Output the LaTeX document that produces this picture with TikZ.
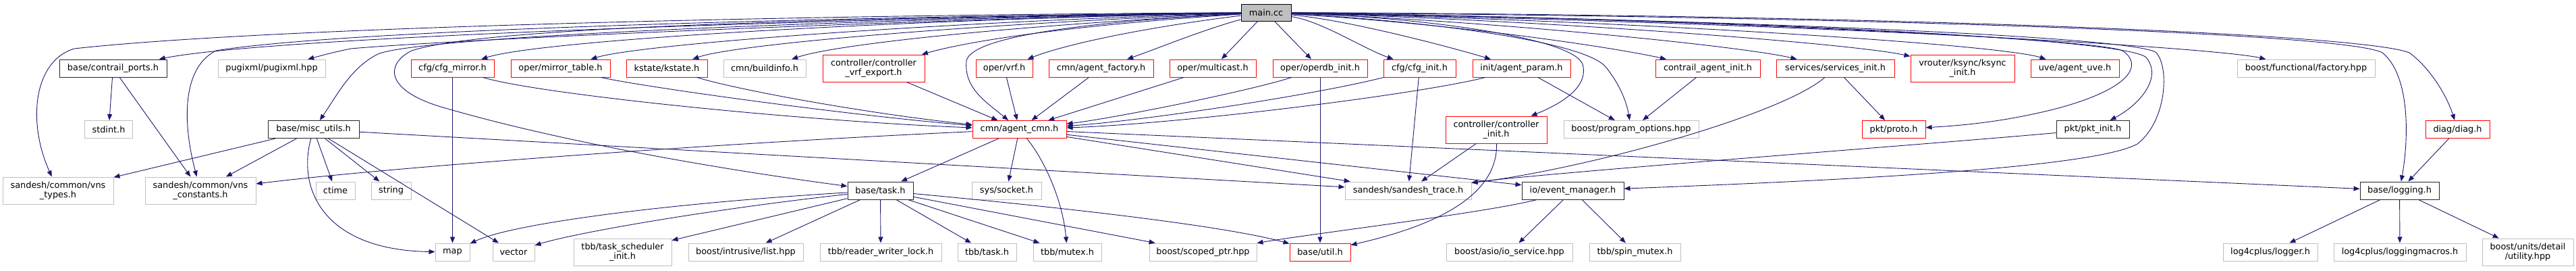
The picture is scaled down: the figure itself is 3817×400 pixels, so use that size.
\documentclass[tikz,border=0pt]{standalone}
\usepackage{fontspec}
\setmainfont{DejaVu Sans}
\usetikzlibrary{arrows.meta}
\definecolor{edgec}{HTML}{191970}
\definecolor{grayb}{HTML}{BFBFBF}
\definecolor{redb}{HTML}{FF0000}
\tikzset{
 box/.style={draw, rectangle, fill=white, inner sep=0pt, minimum height=26pt, align=center,
   font=\fontsize{12.85}{13.4}\selectfont, line width=1pt},
 bk/.style={box, draw=black!85},
 gy/.style={box, draw=grayb},
 rd/.style={box, draw=redb},
 mainbox/.style={box, draw=black, fill=grayb, minimum height=25pt},
 tall/.style={minimum height=40pt},
 dep/.style={draw=edgec, line width=0.9pt, -{Triangle[length=9pt,width=7pt]}},
}
\begin{document}
\begin{tikzpicture}[x=1pt,y=-1pt]
\useasboundingbox (0,0) rectangle (3817,400);
% nodes
\node[mainbox, minimum width=74pt] (main) at (1876,18.5) {main.cc};
% row 1
\node[bk, minimum width=159pt] (cp) at (167.5,101) {base/contrail\_ports.h};
\node[gy, minimum width=159pt] (pugi) at (402.5,101) {pugixml/pugixml.hpp};
\node[rd, minimum width=123pt] (cfgm) at (670.5,101) {cfg/cfg\_mirror.h};
\node[rd, minimum width=147pt] (mt) at (830.5,101) {oper/mirror\_table.h};
\node[rd, minimum width=120pt] (ks) at (988,101) {kstate/kstate.h};
\node[gy, minimum width=122pt] (bi) at (1133,101) {cmn/buildinfo.h};
\node[rd, tall, minimum width=151pt] (cve) at (1294.5,101) {controller/controller\\\_vrf\_export.h};
\node[rd, minimum width=84pt] (vrf) at (1488,101) {oper/vrf.h};
\node[rd, minimum width=155pt] (af) at (1631.5,101) {cmn/agent\_factory.h};
\node[rd, minimum width=128pt] (mc) at (1797,101) {oper/multicast.h};
\node[rd, minimum width=140pt] (odb) at (1956,101) {oper/operdb\_init.h};
\node[rd, minimum width=107pt] (cfgi) at (2103.5,101) {cfg/cfg\_init.h};
\node[rd, minimum width=145pt] (ap) at (2254.5,101) {init/agent\_param.h};
\node[rd, minimum width=155pt] (cai) at (2530.5,101) {contrail\_agent\_init.h};
\node[rd, minimum width=175pt] (si) at (2719.5,101) {services/services\_init.h};
\node[rd, tall, minimum width=154pt] (ksi) at (2908,101) {vrouter/ksync/ksync\\\_init.h};
\node[rd, minimum width=131pt] (uve) at (3074.5,101) {uve/agent\_uve.h};
\node[gy, minimum width=204pt] (bff) at (3417,101) {boost/functional/factory.hpp};
% row 2
\node[gy, minimum width=71pt] (std) at (161,191.5) {stdint.h};
\node[bk, minimum width=135pt] (mu) at (464.5,191.5) {base/misc\_utils.h};
\node[rd, minimum width=139pt] (ac) at (1510.5,191.5) {cmn/agent\_cmn.h};
\node[rd, tall, minimum width=150pt] (ci) at (2217,192) {controller/controller\\\_init.h};
\node[gy, minimum width=200pt] (po) at (2417,191.5) {boost/program\_options.hpp};
\node[rd, minimum width=94pt] (proto) at (2806,191.5) {pkt/proto.h};
\node[bk, minimum width=108pt] (pi) at (3101,191.5) {pkt/pkt\_init.h};
\node[rd, minimum width=95pt] (diag) at (3641.5,191.5) {diag/diag.h};
% row 3
\node[gy, tall, minimum width=164pt] (vt) at (86,282) {sandesh/common/vns\\\_types.h};
\node[gy, tall, minimum width=164pt] (vc) at (297,282) {sandesh/common/vns\\\_constants.h};
\node[gy, minimum width=58pt] (ct) at (497,282) {ctime};
\node[gy, minimum width=59pt] (str) at (579.5,282) {string};
\node[bk, minimum width=97pt] (task) at (1304.5,282) {base/task.h};
\node[gy, minimum width=103pt] (sock) at (1491.5,282) {sys/socket.h};
\node[gy, minimum width=187pt] (st) at (2086.5,282) {sandesh/sandesh\_trace.h};
\node[bk, minimum width=151pt] (em) at (2330.5,282) {io/event\_manager.h};
\node[bk, minimum width=117pt] (log) at (3555.5,282) {base/logging.h};
% row 4
\node[gy, minimum width=51pt] (map) at (670.5,373) {map};
\node[gy, minimum width=62pt] (vec) at (761,373) {vector};
\node[gy, tall, minimum width=145pt] (tsi) at (922.5,373) {tbb/task\_scheduler\\\_init.h};
\node[gy, minimum width=170pt] (il) at (1105,373) {boost/intrusive/list.hpp};
\node[gy, minimum width=180pt] (rwl) at (1305,373) {tbb/reader\_writer\_lock.h};
\node[gy, minimum width=87pt] (tt) at (1462.5,373) {tbb/task.h};
\node[gy, minimum width=101pt] (mut) at (1581.5,373) {tbb/mutex.h};
\node[gy, minimum width=159pt] (sp) at (1782.5,373) {boost/scoped\_ptr.hpp};
\node[rd, minimum width=90pt] (util) at (1956,373) {base/util.h};
\node[gy, minimum width=187pt] (asio) at (2236.5,373) {boost/asio/io\_service.hpp};
\node[gy, minimum width=135pt] (spin) at (2422.5,373) {tbb/spin\_mutex.h};
\node[gy, minimum width=140pt] (l4l) at (3364,373) {log4cplus/logger.h};
\node[gy, minimum width=196pt] (l4m) at (3556,373) {log4cplus/loggingmacros.h};
\node[gy, tall, minimum width=135pt] (buu) at (3745.5,373) {boost/units/detail\\/utility.hpp};

% edges from main.cc
\draw[dep] (main) .. controls (1200,22) and (400,40) .. (110,72) .. controls (50,90) and (40,180) .. (vt);
\draw[dep] (main) .. controls (1200,25) and (500,45) .. (320,75) .. controls (270,100) and (270,180) .. (vc);
\draw[dep] (main) .. controls (1200,28) and (400,55) .. (cp);
\draw[dep] (main) .. controls (1300,30) and (650,60) .. (520,72) .. controls (490,78) and (470,84) .. (pugi);
\draw[dep] (main) .. controls (1200,30) and (620,55) .. (560,80) .. controls (520,100) and (500,140) .. (mu);
\draw[dep] (main) .. controls (1100,28) and (700,45) .. (610,75) .. controls (570,95) and (570,135) .. (660,160) .. controls (850,215) and (1100,255) .. (task);
\draw[dep] (main) .. controls (1300,30) and (800,60) .. (cfgm);
\draw[dep] (main) .. controls (1400,32) and (950,65) .. (mt);
\draw[dep] (main) .. controls (1450,35) and (1090,65) .. (ks);
\draw[dep] (main) .. controls (1500,38) and (1240,65) .. (bi);
\draw[dep] (main) .. controls (1550,40) and (1420,65) .. (cve);
\draw[dep] (main) .. controls (1650,30) and (1440,50) .. (1432,90) .. controls (1428,130) and (1460,150) .. (ac);
\draw[dep] (main) .. controls (1700,40) and (1580,65) .. (vrf);
\draw[dep] (main) .. controls (1780,45) and (1720,70) .. (af);
\draw[dep] (main) -- (mc);
\draw[dep] (main) -- (odb);
\draw[dep] (main) .. controls (1960,32) and (2020,72) .. (cfgi);
\draw[dep] (main) .. controls (2000,30) and (2150,70) .. (ap);
\draw[dep] (main) .. controls (2100,25) and (2330,55) .. (2345,95) .. controls (2355,130) and (2310,155) .. (ci);
\draw[dep] (main) .. controls (2100,30) and (2350,60) .. (2380,100) .. controls (2400,125) and (2410,150) .. (po);
\draw[dep] (main) .. controls (2150,35) and (2380,68) .. (cai);
\draw[dep] (main) .. controls (2200,30) and (2580,68) .. (si);
\draw[dep] (main) .. controls (2300,30) and (2750,65) .. (ksi);
\draw[dep] (main) .. controls (2400,30) and (2960,65) .. (uve);
\draw[dep] (main) .. controls (2400,25) and (3100,55) .. (3145,75) .. controls (3175,95) and (3160,130) .. (3050,160) .. controls (2980,178) and (2920,185) .. (proto);
\draw[dep] (main) .. controls (2500,27) and (3150,55) .. (3180,85) .. controls (3205,115) and (3170,155) .. (pi);
\draw[dep] (main) .. controls (2600,30) and (3170,55) .. (3195,78) .. controls (3215,100) and (3210,180) .. (3167,213) .. controls (3100,250) and (2700,268) .. (em);
\draw[dep] (main) .. controls (2700,35) and (3280,70) .. (bff);
\draw[dep] (main) .. controls (2800,25) and (3480,50) .. (3530,78) .. controls (3570,110) and (3570,200) .. (log);
\draw[dep] (main) .. controls (2800,22) and (3500,50) .. (3570,78) .. controls (3600,100) and (3625,140) .. (diag);

% other edges
\draw[dep] (cp) -- (std);
\draw[dep] (cp) -- (vc);
\draw[dep] (mu) -- (vt);
\draw[dep] (mu) -- (vc);
\draw[dep] (mu) -- (ct);
\draw[dep] (mu) -- (str);
\draw[dep] (mu) -- (vec);
\draw[dep] (mu) .. controls (440,280) and (480,370) .. (map);
\draw[dep] (mu) -- (st);
\draw[dep] (cfgm) -- (map);
\draw[dep] (cfgm) .. controls (800,140) and (1200,180) .. (ac);
\draw[dep] (mt) .. controls (950,128) and (1250,170) .. (ac);
\draw[dep] (ks) .. controls (1100,135) and (1300,170) .. (ac);
\draw[dep] (cve) -- (ac);
\draw[dep] (vrf) -- (ac);
\draw[dep] (af) -- (ac);
\draw[dep] (mc) -- (ac);
\draw[dep] (odb) .. controls (1850,135) and (1650,175) .. (ac);
\draw[dep] (cfgi) .. controls (1950,140) and (1700,178) .. (ac);
\draw[dep] (ap) .. controls (2100,140) and (1750,183) .. (ac);
\draw[dep] (odb) -- (util);
\draw[dep] (cfgi) -- (st);
\draw[dep] (ap) -- (po);
\draw[dep] (cai) -- (po);
\draw[dep] (si) -- (proto);
\draw[dep] (si) .. controls (2640,170) and (2350,250) .. (st);
\draw[dep] (pi) .. controls (2900,210) and (2300,255) .. (st);
\draw[dep] (ci) -- (st);
\draw[dep] (ci) .. controls (2220,300) and (2100,340) .. (util);
\draw[dep] (em) -- (asio);
\draw[dep] (em) -- (spin);
\draw[dep] (em) .. controls (2200,315) and (1950,345) .. (sp);
\draw[dep] (ac) -- (task);
\draw[dep] (ac) -- (sock);
\draw[dep] (ac) .. controls (1550,240) and (1575,300) .. (mut);
\draw[dep] (ac) .. controls (1100,210) and (600,245) .. (vc);
\draw[dep] (ac) -- (st);
\draw[dep] (ac) -- (em);
\draw[dep] (ac) -- (log);
\draw[dep] (task) .. controls (1000,300) and (760,330) .. (map);
\draw[dep] (task) .. controls (1050,310) and (850,345) .. (vec);
\draw[dep] (task) -- (tsi);
\draw[dep] (task) -- (il);
\draw[dep] (task) -- (rwl);
\draw[dep] (task) -- (tt);
\draw[dep] (task) -- (mut);
\draw[dep] (task) -- (sp);
\draw[dep] (task) .. controls (1500,300) and (1800,330) .. (util);
\draw[dep] (diag) -- (log);
\draw[dep] (log) -- (l4l);
\draw[dep] (log) -- (l4m);
\draw[dep] (log) -- (buu);
\end{tikzpicture}
\end{document}
